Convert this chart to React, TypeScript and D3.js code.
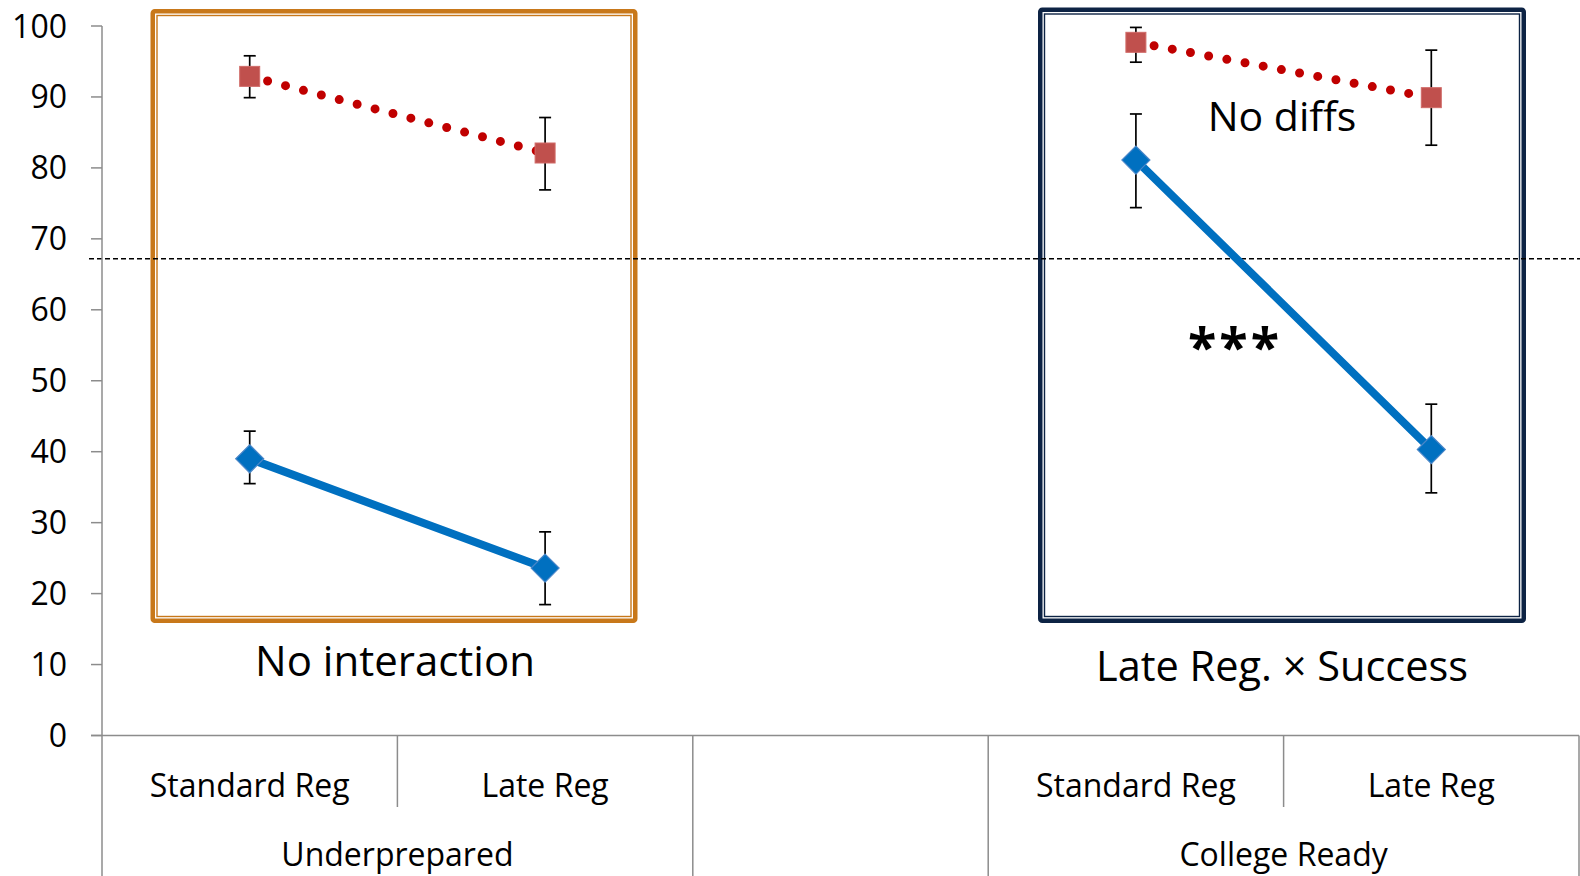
import React from "react";
import * as d3 from "d3";

const categories = ["Standard Reg", "Late Reg", "", "Standard Reg", "Late Reg"];
const groupLabels = ["Underprepared", "", "College Ready"];
const groupSpans = [[0, 1], [2, 2], [3, 4]];
const yTicks = [0, 10, 20, 30, 40, 50, 60, 70, 80, 90, 100];

const redValues = [92.9, 82.1, null, 97.7, 89.9];
const redHigh = [95.8, 87.1, null, 99.8, 96.6];
const redLow = [89.9, 76.9, null, 94.9, 83.2];

const blueValues = [39.0, 23.6, null, 81.1, 40.3];
const blueHigh = [42.9, 28.7, null, 87.6, 46.7];
const blueLow = [35.5, 18.45, null, 74.4, 34.2];

const refLine = 67.2;

const W = 1580;
const H = 876;
const FONT = "'Open Sans', 'Liberation Sans', sans-serif";

export default function App() {
  const x = d3.scaleBand<number>().domain(d3.range(categories.length)).range([102, 1579]).padding(0);
  const y = d3.scaleLinear().domain([0, 100]).range([735.5, 26]);
  const cx = (i: number) => (x(i) as number) + x.bandwidth() / 2;
  const bw = x.bandwidth();

  const line = d3
    .line<number | null>()
    .defined((d) => d !== null)
    .x((_, i) => cx(i))
    .y((d) => y(d as number));

  const errBars = (vals: (number | null)[], hi: (number | null)[], lo: (number | null)[], key: string) =>
    vals.map((v, i) =>
      v === null ? null : (
        <g key={key + i} stroke="#000" strokeWidth={1.7}>
          <line x1={cx(i)} x2={cx(i)} y1={y(hi[i] as number)} y2={y(lo[i] as number)} />
          <line x1={cx(i) - 6} x2={cx(i) + 6} y1={y(hi[i] as number)} y2={y(hi[i] as number)} />
          <line x1={cx(i) - 6} x2={cx(i) + 6} y1={y(lo[i] as number)} y2={y(lo[i] as number)} />
        </g>
      )
    );

  const box = (x0: number, y0: number, x1: number, y1: number, color: string) => (
    <g fill="none" stroke={color}>
      <rect x={x0 + 2.25} y={y0 + 2.25} width={x1 - x0 - 4.5} height={y1 - y0 - 4.5} strokeWidth={4.5} rx={2} />
      <rect x={x0 + 6.5} y={y0 + 6.5} width={x1 - x0 - 13} height={y1 - y0 - 13} strokeWidth={1.4} />
    </g>
  );

  const axisColor = "#8c8c8c";
  const xAxisY = y(0);

  return (
    <svg width={W} height={H} style={{ position: "absolute", left: 0, top: 0, background: "#fff" }} fontFamily={FONT}>
      {/* annotation boxes */}
      {box(150.5, 9, 637.5, 623, "#c8781a")}
      {box(1038, 7.5, 1526, 623, "#0d2344")}

      {/* reference dashed line */}
      <line x1={89} x2={W} y1={y(refLine)} y2={y(refLine)} stroke="#000" strokeWidth={1.4} strokeDasharray="5 3" />

      {/* y axis */}
      <line x1={102} x2={102} y1={y(100)} y2={H} stroke={axisColor} strokeWidth={1.5} />
      {yTicks.map((t) => (
        <g key={t}>
          <line x1={91} x2={102} y1={y(t)} y2={y(t)} stroke={axisColor} strokeWidth={1.5} />
          <text x={67} y={y(t) + 11.5} textAnchor="end" fontSize={32} fill="#000">
            {t}
          </text>
        </g>
      ))}

      {/* x axis */}
      <line x1={91} x2={1579} y1={xAxisY} y2={xAxisY} stroke={axisColor} strokeWidth={1.5} />
      {categories.map((c, i) => (
        <g key={"c" + i}>
          {i > 0 && (
            <line
              x1={x(i) as number}
              x2={x(i) as number}
              y1={xAxisY}
              y2={groupSpans.some((s) => s[0] === i) ? H : 807}
              stroke={axisColor}
              strokeWidth={1.5}
            />
          )}
          <text x={cx(i)} y={797} textAnchor="middle" fontSize={32} fill="#000">
            {c}
          </text>
        </g>
      ))}
      <line x1={1579} x2={1579} y1={xAxisY} y2={H} stroke={axisColor} strokeWidth={1.5} />
      {groupLabels.map((g, k) => {
        const [a, b] = groupSpans[k];
        const mid = ((x(a) as number) + (x(b) as number) + bw) / 2;
        return (
          <text key={"g" + k} x={mid} y={866} textAnchor="middle" fontSize={32} fill="#000">
            {g}
          </text>
        );
      })}

      {/* series lines */}
      <path d={line(blueValues) || ""} fill="none" stroke="#0070c0" strokeWidth={8} />
      <path
        d={line(redValues) || ""}
        fill="none"
        stroke="#c00000"
        strokeWidth={9}
        strokeLinecap="round"
        strokeDasharray="0 18.5"
      />

      {/* error bars */}
      {errBars(redValues, redHigh, redLow, "r")}
      {errBars(blueValues, blueHigh, blueLow, "b")}

      {/* markers */}
      {redValues.map((v, i) =>
        v === null ? null : (
          <rect
            key={"rm" + i}
            x={cx(i) - 10}
            y={y(v) - 10}
            width={20}
            height={20}
            fill="#c0504d"
            stroke="#d06b68"
            strokeWidth={1}
          />
        )
      )}
      {blueValues.map((v, i) =>
        v === null ? null : (
          <path
            key={"bm" + i}
            d={`M${cx(i)},${y(v) - 14} L${cx(i) + 14},${y(v)} L${cx(i)},${y(v) + 14} L${cx(i) - 14},${y(v)} Z`}
            fill="#0070c0"
            stroke="#4a86c8"
            strokeWidth={1.2}
          />
        )
      )}

      {/* annotations */}
      <text x={395} y={676} textAnchor="middle" fontSize={42} fill="#000">
        No interaction
      </text>
      <text x={1282} y={681} textAnchor="middle" fontSize={41.5} fill="#000">
        Late Reg. × Success
      </text>
      <text x={1282} y={131} textAnchor="middle" fontSize={41} fill="#000">
        No diffs
      </text>
      <text x={1235} y={366} textAnchor="middle" fontSize={52} fontWeight="bold" fill="#000" letterSpacing={3}>
        ***
      </text>
    </svg>
  );
}
